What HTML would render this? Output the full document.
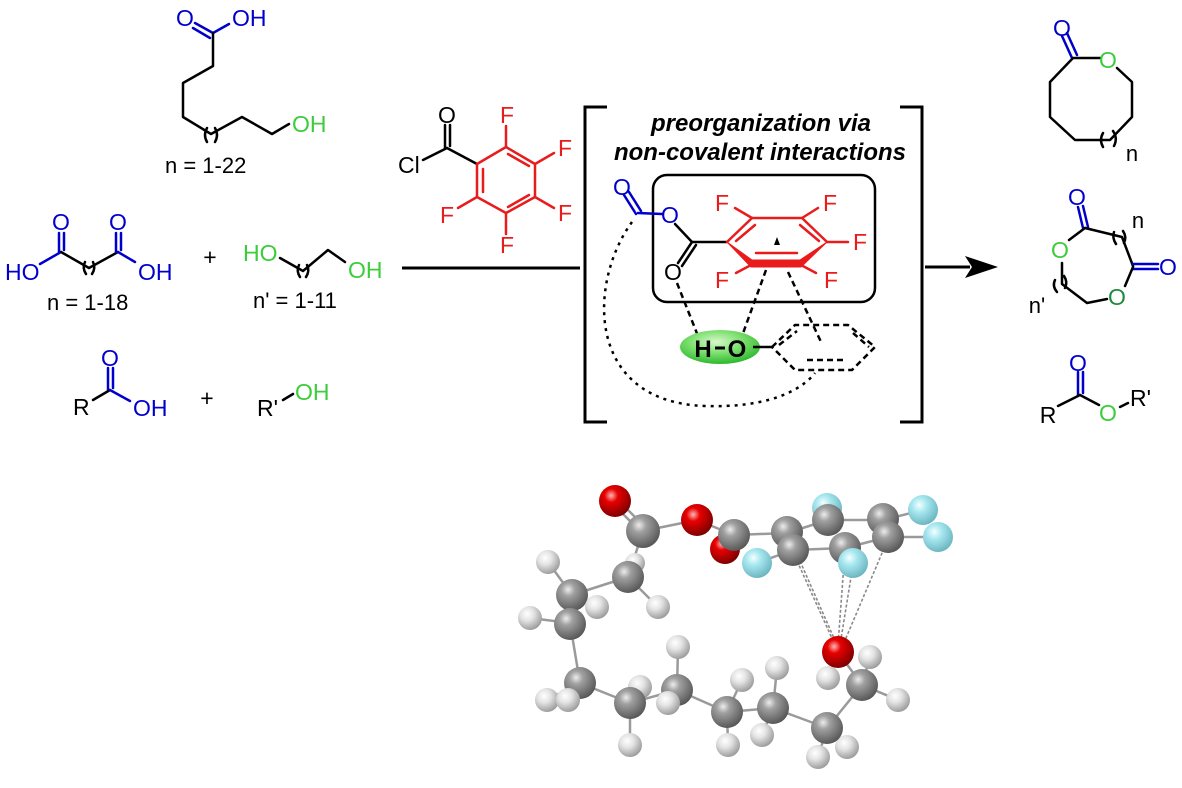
<!DOCTYPE html>
<html><head><meta charset="utf-8"><style>
html,body{margin:0;padding:0;background:#fff;}
svg{display:block;}
text{font-family:"Liberation Sans",Arial,sans-serif;}
</style></head><body>
<svg width="1182" height="788" viewBox="0 0 1182 788" xmlns="http://www.w3.org/2000/svg">
<defs>
<radialGradient id="gC" cx="0.38" cy="0.33" r="0.7"><stop offset="0" stop-color="#ececec"/><stop offset="0.3" stop-color="#a0a0a0"/><stop offset="1" stop-color="#555"/></radialGradient>
<radialGradient id="gO" cx="0.38" cy="0.33" r="0.7"><stop offset="0" stop-color="#ffb8b8"/><stop offset="0.3" stop-color="#e80000"/><stop offset="1" stop-color="#7a0000"/></radialGradient>
<radialGradient id="gF" cx="0.38" cy="0.33" r="0.7"><stop offset="0" stop-color="#f4ffff"/><stop offset="0.35" stop-color="#a8e8f0"/><stop offset="1" stop-color="#6ab4c0"/></radialGradient>
<radialGradient id="gH" cx="0.38" cy="0.33" r="0.7"><stop offset="0" stop-color="#ffffff"/><stop offset="0.4" stop-color="#e4e4e4"/><stop offset="1" stop-color="#999"/></radialGradient>
<radialGradient id="gG" cx="0.45" cy="0.35" r="0.65"><stop offset="0" stop-color="#d8f8cc"/><stop offset="0.5" stop-color="#7ee070"/><stop offset="1" stop-color="#2fb82f"/></radialGradient>
</defs>

<g fill="none" stroke-width="2.5" stroke-linecap="round" stroke-linejoin="round">
<line x1="195" y1="23" x2="213" y2="33" stroke="#0000cc"/>
<line x1="193" y1="28" x2="210" y2="38" stroke="#0000cc"/>
<line x1="213" y1="33" x2="229" y2="24" stroke="#0000cc"/>
<polyline points="213,33 213,66 183,83 183,117 211,134 242,117 272,134 289,124" stroke="#000"/>
<path d="M207,128 Q203,135 207,142" stroke="#000"/>
<path d="M215,128 Q219,135 215,142" stroke="#000"/>

<line x1="59" y1="233" x2="59" y2="252" stroke="#0000cc"/>
<line x1="64" y1="233" x2="64" y2="250" stroke="#0000cc"/>
<line x1="61" y1="252" x2="40" y2="264" stroke="#0000cc"/>
<polyline points="61,252 89,268 118,252" stroke="#000"/>
<path d="M85,262 Q82,268 86,274" stroke="#000"/>
<path d="M93,262 Q96,268 92,274" stroke="#000"/>
<line x1="116" y1="233" x2="116" y2="252" stroke="#0000cc"/>
<line x1="121" y1="233" x2="121" y2="250" stroke="#0000cc"/>
<line x1="118" y1="252" x2="135" y2="262" stroke="#0000cc"/>

<polyline points="280,258 303,271 328,250 345,262" stroke="#000"/>
<path d="M299,265 Q296,271 300,277" stroke="#000"/>
<path d="M307,265 Q310,271 306,277" stroke="#000"/>

<line x1="108" y1="368" x2="108" y2="390" stroke="#0000cc"/>
<line x1="113" y1="368" x2="113" y2="388" stroke="#0000cc"/>
<line x1="93" y1="400" x2="110" y2="390" stroke="#000"/>
<line x1="110" y1="390" x2="130" y2="401" stroke="#0000cc"/>
<line x1="283" y1="400" x2="293" y2="394" stroke="#000"/>

<line x1="445" y1="125" x2="445" y2="148" stroke="#000"/>
<line x1="450" y1="125" x2="450" y2="146" stroke="#000"/>
<line x1="423" y1="160" x2="447" y2="148" stroke="#000"/>
<line x1="447" y1="148" x2="477" y2="164" stroke="#000"/>
<polygon points="506,147 535,164 535,197 506,213 477,197 477,164" stroke="#e81c1c"/>
<line x1="483" y1="169" x2="483" y2="192" stroke="#e81c1c"/>
<line x1="508" y1="154" x2="529" y2="166" stroke="#e81c1c"/>
<line x1="529" y1="195" x2="508" y2="207" stroke="#e81c1c"/>
<line x1="506" y1="147" x2="506" y2="126" stroke="#e81c1c"/>
<line x1="535" y1="164" x2="554" y2="153" stroke="#e81c1c"/>
<line x1="535" y1="197" x2="554" y2="208" stroke="#e81c1c"/>
<line x1="506" y1="213" x2="506" y2="234" stroke="#e81c1c"/>
<line x1="477" y1="197" x2="458" y2="208" stroke="#e81c1c"/>

<line x1="402" y1="268" x2="580" y2="268" stroke="#000" stroke-width="3" stroke-linecap="butt"/>

<polyline points="607,107 585,107 585,422 607,422" stroke="#000" stroke-width="3" stroke-linecap="butt" stroke-linejoin="miter"/>
<polyline points="900,107 922,107 922,422 900,422" stroke="#000" stroke-width="3" stroke-linecap="butt" stroke-linejoin="miter"/>

<rect x="653" y="175" width="222" height="127" rx="14" stroke="#000" stroke-width="2.5"/>

<line x1="624" y1="195" x2="636" y2="214" stroke="#0000cc"/>
<line x1="629" y1="192" x2="641" y2="211" stroke="#0000cc"/>
<line x1="638" y1="213" x2="662" y2="214" stroke="#0000cc"/>
<line x1="675" y1="224" x2="692" y2="242" stroke="#000"/>
<line x1="692" y1="242" x2="678" y2="263" stroke="#000"/>
<line x1="696" y1="245" x2="682" y2="266" stroke="#000"/>
<line x1="692" y1="242" x2="727" y2="242" stroke="#000"/>
<polyline points="727,242 752,218 802,218 827,242" stroke="#e81c1c"/>
<polygon points="727,242 752,260 800,260 827,242 801,267 751,267" fill="#e81c1c" stroke="#e81c1c" stroke-width="1"/>
<line x1="736" y1="241" x2="755" y2="225" stroke="#e81c1c"/>
<line x1="800" y1="225" x2="819" y2="241" stroke="#e81c1c"/>
<line x1="756" y1="253" x2="797" y2="253" stroke="#e81c1c"/>
<line x1="752" y1="218" x2="735" y2="208" stroke="#e81c1c"/>
<line x1="802" y1="218" x2="818" y2="208" stroke="#e81c1c"/>
<line x1="827" y1="242" x2="848" y2="242" stroke="#e81c1c"/>
<line x1="801" y1="265" x2="816" y2="273" stroke="#e81c1c"/>
<line x1="751" y1="265" x2="736" y2="273" stroke="#e81c1c"/>
<polygon points="777,237 774,245 780,245" fill="#000" stroke="none"/>

<g stroke="#000" stroke-width="2.5" stroke-dasharray="6 4" stroke-linecap="butt">
<line x1="677" y1="283" x2="698" y2="336"/>
<line x1="766" y1="270" x2="742" y2="336"/>
<line x1="788" y1="272" x2="822" y2="344"/>
<polygon points="772,347 795,325 848,325 875,347 852,370 795,370"/>
<line x1="779" y1="345" x2="797" y2="331"/>
<line x1="853" y1="333" x2="869" y2="347"/>
<line x1="807" y1="360" x2="845" y2="360"/>
</g>
<path d="M632,222 C588,282 585,402 705,406 C765,408 800,392 815,373" stroke="#000" stroke-width="2.5" stroke-dasharray="3 5" stroke-linecap="butt"/>

<line x1="925" y1="267" x2="970" y2="267" stroke="#000" stroke-width="3" stroke-linecap="butt"/>
<polygon points="998,267 965,256 972,267 965,278" fill="#000" stroke="none"/>

<line x1="1062" y1="36" x2="1072" y2="58" stroke="#0000cc"/>
<line x1="1067" y1="33" x2="1077" y2="55" stroke="#0000cc"/>
<polyline points="1100,58 1073,58 1050,82 1050,117 1075,140 1110,140 1132,117 1132,82 1117,68" stroke="#000"/>
<path d="M1103,133 Q1099,140 1103,147" stroke="#000"/>
<path d="M1113,131 Q1118,138 1114,146" stroke="#000"/>

<line x1="1078" y1="207" x2="1083" y2="228" stroke="#0000cc"/>
<line x1="1083" y1="206" x2="1088" y2="227" stroke="#0000cc"/>
<polyline points="1085,228 1122,237 1133,266" stroke="#000"/>
<path d="M1114,232 Q1112,238 1116,244" stroke="#000"/>
<path d="M1123,231 Q1127,237 1124,243" stroke="#000"/>
<line x1="1133" y1="264" x2="1158" y2="264" stroke="#0000cc"/>
<line x1="1133" y1="269" x2="1158" y2="269" stroke="#0000cc"/>
<line x1="1133" y1="267" x2="1125" y2="286" stroke="#000"/>
<polyline points="1107,299 1087,303 1062,284 1062,263" stroke="#000"/>
<path d="M1055,280 Q1052,286 1057,292" stroke="#000"/>
<path d="M1064,276 Q1068,282 1065,288" stroke="#000"/>
<line x1="1069" y1="240" x2="1085" y2="228" stroke="#000"/>

<line x1="1078" y1="372" x2="1078" y2="395" stroke="#0000cc"/>
<line x1="1083" y1="372" x2="1083" y2="393" stroke="#0000cc"/>
<line x1="1058" y1="406" x2="1080" y2="395" stroke="#000"/>
<line x1="1080" y1="395" x2="1099" y2="405" stroke="#000"/>
<line x1="1120" y1="407" x2="1128" y2="403" stroke="#000"/>
</g>

<ellipse cx="720" cy="347" rx="40" ry="17" fill="url(#gG)"/>
<line x1="753" y1="347" x2="772" y2="347" stroke="#000" stroke-width="2.5"/>
<line x1="715" y1="348" x2="725" y2="348" stroke="#000" stroke-width="3"/>

<g font-size="23">
<text x="185" y="26" text-anchor="middle" fill="#0000cc">O</text>
<text x="232" y="26" fill="#0000cc">OH</text>
<text x="292" y="132" fill="#3ccc3c">OH</text>
<text x="165" y="173" font-size="22">n = 1-22</text>

<text x="61" y="230" text-anchor="middle" fill="#0000cc">O</text>
<text x="118" y="230" text-anchor="middle" fill="#0000cc">O</text>
<text x="5" y="280" fill="#0000cc">HO</text>
<text x="138" y="280" fill="#0000cc">OH</text>
<text x="47" y="310" font-size="22">n = 1-18</text>
<text x="210" y="265" text-anchor="middle">+</text>
<text x="243" y="261" fill="#3ccc3c">HO</text>
<text x="348" y="278" fill="#3ccc3c">OH</text>
<text x="253" y="308" font-size="22">n' = 1-11</text>

<text x="110" y="366" text-anchor="middle" fill="#0000cc">O</text>
<text x="73" y="415">R</text>
<text x="133" y="416" fill="#0000cc">OH</text>
<text x="207" y="406" text-anchor="middle">+</text>
<text x="257" y="416">R'</text>
<text x="295" y="400" fill="#3ccc3c">OH</text>

<text x="447" y="123" text-anchor="middle">O</text>
<text x="398" y="173">Cl</text>
<g fill="#e81c1c">
<text x="507" y="123" text-anchor="middle">F</text>
<text x="565" y="156" text-anchor="middle">F</text>
<text x="565" y="221" text-anchor="middle">F</text>
<text x="507" y="253" text-anchor="middle">F</text>
<text x="447" y="223" text-anchor="middle">F</text>
</g>

<text x="761" y="131" text-anchor="middle" font-size="24" font-weight="bold" font-style="italic">preorganization via</text>
<text x="760" y="160" text-anchor="middle" font-size="24" font-weight="bold" font-style="italic">non-covalent interactions</text>

<text x="622" y="195" text-anchor="middle" fill="#0000cc">O</text>
<text x="670" y="223" text-anchor="middle" fill="#0000cc">O</text>
<text x="673" y="280" text-anchor="middle">O</text>
<g fill="#e81c1c">
<text x="722" y="211" text-anchor="middle">F</text>
<text x="830" y="211" text-anchor="middle">F</text>
<text x="860" y="250" text-anchor="middle">F</text>
<text x="831" y="288" text-anchor="middle">F</text>
<text x="722" y="288" text-anchor="middle">F</text>
</g>
<text x="703" y="357" text-anchor="middle" font-weight="bold" font-size="24">H</text>
<text x="737" y="357" text-anchor="middle" font-weight="bold" font-size="24">O</text>

<text x="1062" y="36" text-anchor="middle" fill="#0000cc">O</text>
<text x="1108" y="68" text-anchor="middle" fill="#3ccc3c">O</text>
<text x="1132" y="161" text-anchor="middle" font-size="22">n</text>

<text x="1077" y="205" text-anchor="middle" fill="#0000cc">O</text>
<text x="1138" y="228" text-anchor="middle" font-size="22">n</text>
<text x="1168" y="275" text-anchor="middle" fill="#0000cc">O</text>
<text x="1117" y="305" text-anchor="middle" fill="#1f8a3f">O</text>
<text x="1060" y="258" text-anchor="middle" fill="#3ccc3c">O</text>
<text x="1037" y="313" text-anchor="middle" font-size="22">n'</text>

<text x="1078" y="371" text-anchor="middle" fill="#0000cc">O</text>
<text x="1048" y="423" text-anchor="middle">R</text>
<text x="1108" y="421" text-anchor="middle" fill="#3ccc3c">O</text>
<text x="1130" y="406">R'</text>
</g>

<g stroke="#9a9a9a" stroke-width="2.5" stroke-linecap="round">
<line x1="613" y1="504" x2="641" y2="532"/>
<line x1="618" y1="500" x2="646" y2="528"/>
<line x1="643" y1="531" x2="697" y2="520"/>
<line x1="697" y1="520" x2="734" y2="535"/>
<line x1="734" y1="535" x2="787" y2="533"/>
<line x1="787" y1="533" x2="828" y2="520"/>
<line x1="828" y1="520" x2="883" y2="520"/>
<line x1="883" y1="520" x2="888" y2="537"/>
<line x1="888" y1="537" x2="845" y2="548"/>
<line x1="845" y1="548" x2="793" y2="550"/>
<line x1="793" y1="550" x2="787" y2="533"/>
<line x1="883" y1="520" x2="923" y2="510"/>
<line x1="888" y1="537" x2="938" y2="537"/>
<line x1="793" y1="550" x2="757" y2="563"/>
<line x1="845" y1="548" x2="853" y2="563"/>
<line x1="643" y1="531" x2="628" y2="577"/>
<line x1="628" y1="577" x2="572" y2="595"/>
<line x1="572" y1="595" x2="570" y2="623"/>
<line x1="570" y1="623" x2="580" y2="683"/>
<line x1="580" y1="683" x2="630" y2="703"/>
<line x1="630" y1="703" x2="677" y2="690"/>
<line x1="677" y1="690" x2="727" y2="712"/>
<line x1="727" y1="712" x2="773" y2="708"/>
<line x1="773" y1="708" x2="827" y2="728"/>
<line x1="827" y1="728" x2="862" y2="685"/>
<line x1="862" y1="685" x2="838" y2="652"/>
<line x1="628" y1="577" x2="658" y2="607"/>
<line x1="572" y1="595" x2="548" y2="562"/>
<line x1="572" y1="595" x2="597" y2="607"/>
<line x1="570" y1="623" x2="530" y2="618"/>
<line x1="580" y1="683" x2="547" y2="700"/>
<line x1="580" y1="683" x2="568" y2="700"/>
<line x1="630" y1="703" x2="640" y2="687"/>
<line x1="630" y1="703" x2="630" y2="745"/>
<line x1="677" y1="690" x2="678" y2="647"/>
<line x1="677" y1="690" x2="668" y2="703"/>
<line x1="727" y1="712" x2="742" y2="680"/>
<line x1="727" y1="712" x2="728" y2="745"/>
<line x1="773" y1="708" x2="777" y2="668"/>
<line x1="773" y1="708" x2="762" y2="735"/>
<line x1="827" y1="728" x2="818" y2="757"/>
<line x1="827" y1="728" x2="847" y2="747"/>
<line x1="862" y1="685" x2="870" y2="657"/>
<line x1="862" y1="685" x2="898" y2="700"/>
<line x1="838" y1="652" x2="828" y2="678"/>
</g>
<g stroke="#8a8a8a" stroke-width="1.6" stroke-dasharray="3 2">
<line x1="793" y1="552" x2="835" y2="645"/>
<line x1="796" y1="552" x2="837" y2="645"/>
<line x1="845" y1="550" x2="838" y2="645"/>
<line x1="853" y1="565" x2="840" y2="645"/>
<line x1="888" y1="539" x2="843" y2="645"/>
</g>
<circle cx="827" cy="508" r="15" fill="url(#gF)"/>
<circle cx="725" cy="549" r="15" fill="url(#gO)"/>
<circle cx="635" cy="563" r="10" fill="url(#gH)"/>
<g fill="url(#gH)">
<circle cx="548" cy="562" r="12"/>
<circle cx="530" cy="618" r="12"/>
<circle cx="658" cy="607" r="12"/>
<circle cx="547" cy="700" r="12"/>
<circle cx="640" cy="687" r="12"/>
<circle cx="678" cy="647" r="12"/>
<circle cx="742" cy="680" r="12"/>
<circle cx="777" cy="668" r="12"/>
<circle cx="630" cy="745" r="12"/>
<circle cx="728" cy="745" r="12"/>
<circle cx="762" cy="735" r="12"/>
<circle cx="828" cy="678" r="12"/>
<circle cx="870" cy="657" r="12"/>
<circle cx="898" cy="700" r="12"/>
<circle cx="818" cy="757" r="12"/>
<circle cx="847" cy="747" r="12"/>
</g>
<g fill="url(#gC)">
<circle cx="643" cy="531" r="17"/>
<circle cx="734" cy="535" r="16"/>
<circle cx="787" cy="532" r="16"/>
<circle cx="828" cy="520" r="16"/>
<circle cx="883" cy="519" r="16"/>
<circle cx="888" cy="537" r="16"/>
<circle cx="793" cy="550" r="16"/>
<circle cx="845" cy="548" r="16"/>
<circle cx="628" cy="577" r="16"/>
<circle cx="572" cy="595" r="16"/>
<circle cx="570" cy="624" r="16"/>
<circle cx="580" cy="683" r="16"/>
<circle cx="630" cy="703" r="16"/>
<circle cx="677" cy="690" r="16"/>
<circle cx="727" cy="712" r="16"/>
<circle cx="773" cy="708" r="16"/>
<circle cx="827" cy="728" r="16"/>
<circle cx="862" cy="685" r="16"/>
</g>
<g fill="url(#gH)">
<circle cx="597" cy="607" r="12"/>
<circle cx="568" cy="700" r="12"/>
<circle cx="668" cy="703" r="12"/>
</g>
<g fill="url(#gF)">
<circle cx="923" cy="510" r="15"/>
<circle cx="938" cy="537" r="15"/>
<circle cx="757" cy="563" r="15"/>
<circle cx="853" cy="563" r="15"/>
</g>
<g fill="url(#gO)">
<circle cx="615" cy="501" r="16"/>
<circle cx="697" cy="520" r="16"/>
<circle cx="838" cy="652" r="16"/>
</g>
</svg>
</body></html>
